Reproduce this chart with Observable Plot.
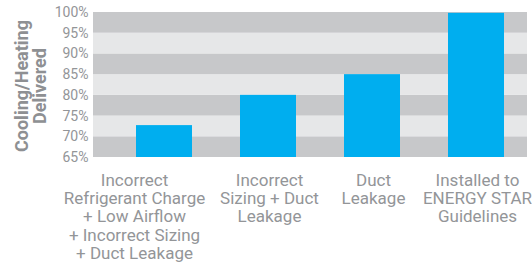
<!DOCTYPE html>
<html>
<head>
<meta charset="utf-8">
<script src="https://cdn.jsdelivr.net/npm/d3@7"></script>
<script src="https://cdn.jsdelivr.net/npm/@observablehq/plot@0.6"></script>
<style>
  html, body { margin: 0; padding: 0; background: #fff; }
  #chart svg { display: block; }
</style>
</head>
<body>
<div id="chart"></div>
<script>
const categories = ["A", "B", "C", "D"];
const labels = [
  "Incorrect\nRefrigerant Charge\n+ Low Airflow\n+ Incorrect Sizing\n+ Duct Leakage",
  "Incorrect\nSizing + Duct\nLeakage",
  "Duct\nLeakage",
  "Installed to\nENERGY STAR\nGuidelines"
];
const values = [72.7, 80, 85, 99.8];
const yTicks = [65, 70, 75, 80, 85, 90, 95, 100];
const bandStarts = [65, 70, 75, 80, 85, 90, 95];
const yMin = 65, yMax = 100;
const yTitle = "Cooling/Heating\nDelivered";

const data = categories.map((c, i) => ({cat: c, value: values[i], label: labels[i]}));
const bands = bandStarts.map((s, i) => ({y1: s, y2: s + 5, dark: i % 2 === 0}));

const textGray = "#939598";
const font = "Roboto, 'Liberation Sans', sans-serif";

const chart = Plot.plot({
  width: 532,
  height: 265,
  marginLeft: 93,
  marginRight: 5,
  marginTop: 12,
  marginBottom: 108,
  style: {fontFamily: font, fontSize: "14px", color: textGray, background: "#fff"},
  x: {domain: categories, range: [135, 505], paddingInner: 0.465, paddingOuter: 0, axis: null},
  y: {domain: [yMin, yMax], ticks: yTicks, tickFormat: d => d + "%", tickSize: 0, tickPadding: 5, label: null},
  marks: [
    Plot.rect(bands, {y1: "y1", y2: "y2", fill: d => d.dark ? "#c7c8ca" : "#e6e7e8"}),
    Plot.barY(data, {x: "cat", y1: yMin, y2: "value", fill: "#00aeef"}),
    Plot.text(data.slice(0, 1), {x: "cat", text: "label", frameAnchor: "bottom", lineAnchor: "top", dy: 15, dx: -30, fontSize: 17, lineHeight: 1.08, fill: textGray}),
    Plot.text(data.slice(1), {x: "cat", text: "label", frameAnchor: "bottom", lineAnchor: "top", dy: 15, dx: 1, fontSize: 17, lineHeight: 1.08, fill: textGray}),
    Plot.text([yTitle], {text: d => d, frameAnchor: "left", textAnchor: "middle", rotate: -90, dx: -62, dy: 1, fontSize: 18, fontWeight: "bold", lineHeight: 0.95, fill: "#8e9093"})
  ]
});
document.getElementById("chart").appendChild(chart);
</script>
</body>
</html>
